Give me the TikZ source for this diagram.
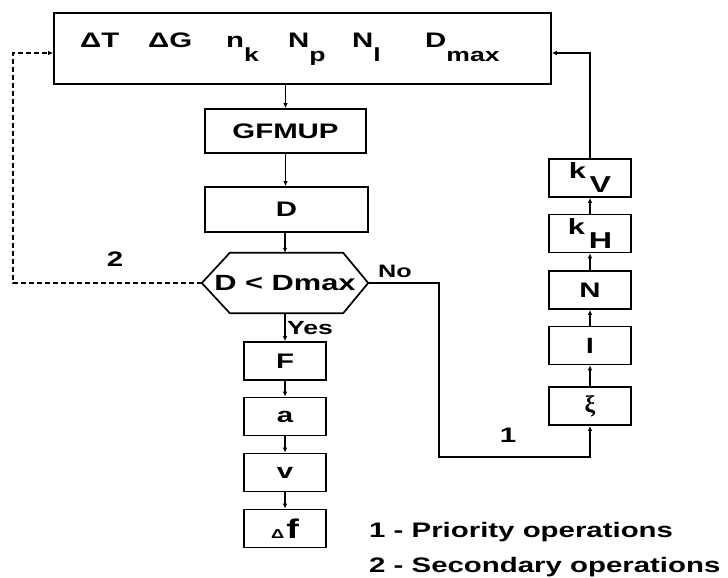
\documentclass[tikz,border=0pt]{standalone}
\usepackage{fontspec}
\setmainfont{Liberation Sans}[FakeStretch=1.4]
\newfontfamily\greekserif{Liberation Serif}
\usetikzlibrary{arrows.meta}
\definecolor{FlowInk}{HTML}{000000}
\newcommand{\fsz}[1]{\fontsize{#1}{#1}\selectfont}
\newcommand{\lowsub}[2][19]{\raisebox{-14pt}{\fsz{#1}#2}}

\begin{document}
\begin{tikzpicture}[x=1pt,y=-1pt,
    box/.style={draw=FlowInk,line width=1.7pt,inner sep=0pt,font=\bfseries\fsz{21}},
    link/.style={draw=FlowInk,line width=1.5pt,-{Latex[length=5pt,width=4.5pt]}},
    back/.style={link,dash pattern=on 5pt off 3pt},
    tag/.style={inner sep=0pt,text=FlowInk,font=\bfseries\fsz{#1}}]
    \useasboundingbox (0,0) rectangle (728,578);
    \node[box,minimum width=497pt,minimum height=71pt] (params) at (302.5,48.5) {};
    \foreach \x/\txt [count=\i] in {80/ΔT,148/ΔG,226/n\lowsub{k},288/N\lowsub{p},352/N\lowsub{l},425/D\lowsub{max}}
      \node[tag=21,anchor=base west] (par\i) at (\x,48) {\txt};
    \node[box,minimum width=161pt,minimum height=44pt] (gfmup) at (285.5,131) {GFMUP};
    \node[box,minimum width=163pt,minimum height=45pt] (dist) at (286.5,209.5) {D};
    \node[tag=22,minimum width=166pt,minimum height=60pt] (test) at (285,283) {D < Dmax};
    \draw[FlowInk,line width=1.7pt] (test.west) -- ([xshift=28pt]test.north west) -- ([xshift=-25pt]test.north east)
      -- (test.east) -- ([xshift=-25pt]test.south east) -- ([xshift=28pt]test.south west) -- cycle;
    \foreach \y/\name/\txt in {361/force/F,416.5/accel/a,472.5/speed/v,528.5/dfreq/{\fsz{13}Δ\,\fsz{27}f}}
      \node[box,minimum width=82pt,minimum height=38pt] (\name) at (285,\y) {\txt};
    \foreach \y/\name/\txt in {178/kv/{\fsz{22}k\,\lowsub[23]{V}},233.5/kh/{\fsz{22}k\,\lowsub[23]{H}},290/nfac/N,345.5/lfac/l,406/xi/{\greekserif\fsz{24}ξ}}
      \node[box,minimum width=82pt,minimum height=38pt] (\name) at (590,\y) {\txt};
    \draw[link] (params.south -| gfmup.north) -- (gfmup.north);
    \draw[link] (gfmup.south) -- (dist.north -| gfmup.south);
    \draw[link] (dist.south -| test.north) -- (test.north);
    \draw[link] (test.south) -- (force.north);
    \foreach \a/\b in {force/accel,accel/speed,speed/dfreq}
      \draw[link] (\a.south) -- (\b.north);
    \foreach \a/\b in {xi/lfac,lfac/nfac,nfac/kh,kh/kv}
      \draw[link] (\a.north) -- (\b.south);
    \draw[link] (kv.north) |- ([yshift=-4.5pt]params.east);
    \coordinate (nojog) at (439,457);
    \draw[link] (test.east) -| (nojog) -| (xi.south);
    \coordinate (dashcorner) at (13,53);
    \draw[back] (test.west) -| (dashcorner) -- (params.west |- dashcorner);
    \node[tag=18] (no) at (395,271) {No};
    \node[tag=19] (yes) at (310,328) {Yes};
    \node[tag=21] (one) at (508,435) {1};
    \node[tag=21] (two) at (115,259) {2};
    \node[tag=21,anchor=base west] (leg1) at (369,537) {1 - Priority operations};
    \node[tag=21,anchor=base west] (leg2) at (369,572) {2 - Secondary operations};
\end{tikzpicture}
\end{document}
